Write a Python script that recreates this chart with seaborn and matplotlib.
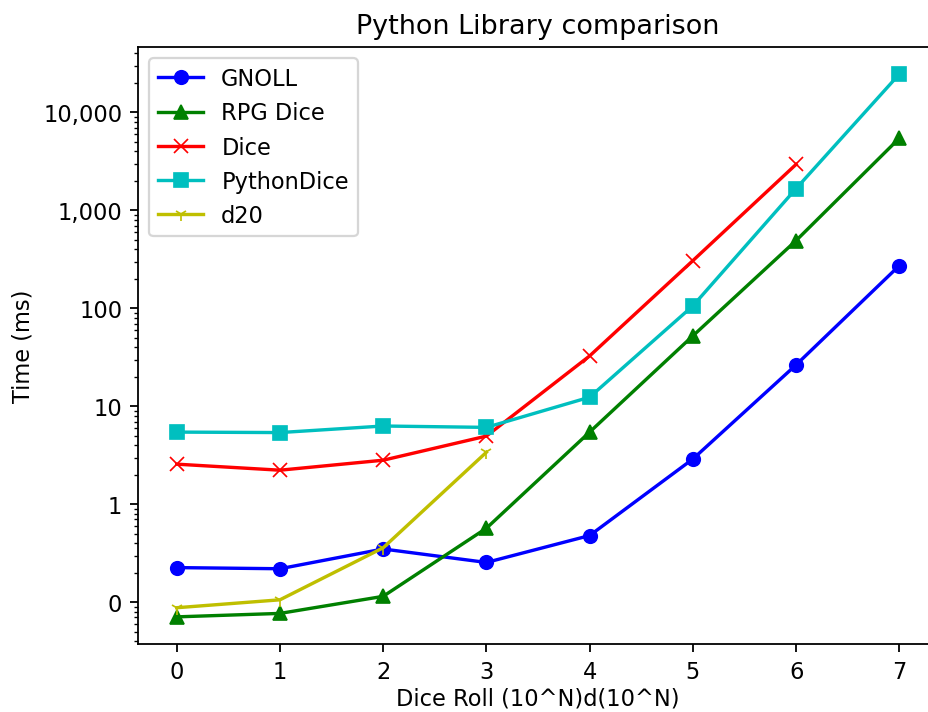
import pandas as pd
import seaborn as sns
import matplotlib.pyplot as plt
from matplotlib.ticker import FuncFormatter, NullFormatter

# dice roll exponent N for (10^N)d(10^N)
n_gnoll = [0, 1, 2, 3, 4, 5, 6, 7]
t_gnoll = [0.226, 0.22, 0.35, 0.255, 0.48, 2.9, 26.5, 273]

n_rpg = [0, 1, 2, 3, 4, 5, 6, 7]
t_rpg = [0.071, 0.077, 0.115, 0.57, 5.46, 52.4, 492, 5450]

n_dice = [0, 1, 2, 3, 4, 5, 6]
t_dice = [2.57, 2.23, 2.82, 4.97, 32.7, 307, 2950]

n_pydice = [0, 1, 2, 3, 4, 5, 6, 7]
t_pydice = [5.46, 5.4, 6.3, 6.1, 12.4, 106, 1670, 24600]

n_d20 = [0, 1, 2, 3]
t_d20 = [0.088, 0.106, 0.36, 3.4]

y_ticks = [0.1, 1, 10, 100, 1000, 10000]

series = [
    ('GNOLL', n_gnoll, t_gnoll, 'b', 'o'),
    ('RPG Dice', n_rpg, t_rpg, 'g', '^'),
    ('Dice', n_dice, t_dice, 'r', 'x'),
    ('PythonDice', n_pydice, t_pydice, 'c', 's'),
    ('d20', n_d20, t_d20, 'y', '1'),
]

DPI = 162
fig = plt.figure(figsize=(928 / DPI, 713 / DPI), dpi=DPI)
ax = fig.add_axes([138 / 928, 1 - 645 / 713, 800 / 928, 597 / 713])

for name, xs, ys, col, mk in series:
    df = pd.DataFrame({'N': xs, 'ms': ys})
    sns.lineplot(data=df, x='N', y='ms', color=col, marker=mk, label=name,
                 markeredgecolor=col, ax=ax)

ax.set_yscale('log')
ax.set_yticks(y_ticks)
ax.yaxis.set_major_formatter(FuncFormatter(lambda v, p: '{:,.0f}'.format(v)))
ax.yaxis.set_minor_formatter(NullFormatter())
ax.set_xticks(range(8))
ax.set_xlim(-0.375, 7.375)

ax.set_title('Python Library comparison')
ax.set_xlabel('Dice Roll (10^N)d(10^N)', labelpad=1.5)
ax.set_ylabel('Time (ms)')
ax.legend(loc='upper left')

fig.savefig('out.png', dpi=DPI)
